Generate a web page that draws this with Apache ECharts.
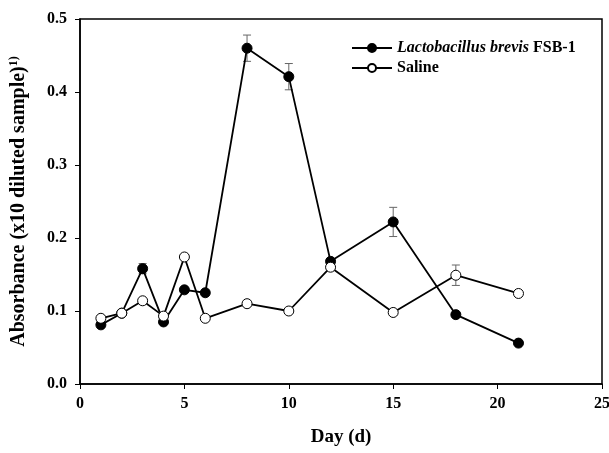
<!DOCTYPE html>
<html>
<head>
<meta charset="utf-8">
<script src="https://cdn.jsdelivr.net/npm/echarts@6/dist/echarts.min.js"></script>
<style>
html, body { margin: 0; padding: 0; background: #fff; }
#main { width: 609px; height: 453px; }
</style>
</head>
<body>
<div id="main"></div>
<script>
var days = [1, 2, 3, 4, 5, 6, 8, 10, 12, 15, 18, 21];
var lactoValues = [0.081, 0.097, 0.158, 0.085, 0.129, 0.125, 0.460, 0.421, 0.168, 0.222, 0.095, 0.056];
var lactoErr = [0, 0, 0.007, 0, 0, 0, 0.018, 0.018, 0, 0.020, 0, 0];
var salineValues = [0.090, 0.097, 0.114, 0.093, 0.174, 0.090, 0.110, 0.100, 0.160, 0.098, 0.149, 0.124];
var salineErr = [0, 0, 0, 0, 0, 0, 0, 0, 0, 0.003, 0.014, 0.002];
var xTicks = [0, 5, 10, 15, 20, 25];
var yTicks = ['0.0', '0.1', '0.2', '0.3', '0.4', '0.5'];

var font = '"Liberation Serif", "Times New Roman", serif';

function pairs(vals) {
    return days.map(function (d, i) { return [d, vals[i]]; });
}
function errData(vals, errs) {
    var out = [];
    days.forEach(function (d, i) {
        if (errs[i] > 0) out.push([d, vals[i] - errs[i], vals[i] + errs[i]]);
    });
    return out;
}
function renderErr(params, api) {
    var lo = api.coord([api.value(0), api.value(1)]);
    var hi = api.coord([api.value(0), api.value(2)]);
    var w = 4;
    var st = { stroke: '#666', lineWidth: 1 };
    return {
        type: 'group',
        children: [
            { type: 'line', shape: { x1: lo[0], y1: lo[1], x2: hi[0], y2: hi[1] }, style: st },
            { type: 'line', shape: { x1: lo[0] - w, y1: lo[1], x2: lo[0] + w, y2: lo[1] }, style: st },
            { type: 'line', shape: { x1: hi[0] - w, y1: hi[1], x2: hi[0] + w, y2: hi[1] }, style: st }
        ]
    };
}

var chart = echarts.init(document.getElementById('main'));
var option = {
    animation: false,
    backgroundColor: '#fff',
    grid: {
        left: 80, right: 7, top: 19, bottom: 69,
        outerBoundsMode: 'none', containLabel: false,
        show: true, borderColor: '#000', borderWidth: 1.5
    },
    legend: {
        left: 346, top: 35, orient: 'vertical',
        itemWidth: 40, itemHeight: 10, itemGap: 4,
        data: ['lacto', 'saline'],
        formatter: function (name) {
            return name === 'lacto' ? '{i|Lactobacillus brevis} FSB-1' : 'Saline';
        },
        textStyle: {
            fontFamily: font, fontWeight: 'bold', fontSize: 16, color: '#000',
            rich: { i: { fontFamily: font, fontWeight: 'bold', fontStyle: 'italic', fontSize: 16, color: '#000' } }
        }
    },
    xAxis: {
        type: 'value', min: 0, max: 25, interval: 5,
        name: 'Day (d)', nameLocation: 'middle', nameGap: 44,
        nameTextStyle: { fontFamily: font, fontWeight: 'bold', fontSize: 19, color: '#000' },
        axisLine: { lineStyle: { color: '#000', width: 1.5 } },
        axisTick: { show: true, length: 5, lineStyle: { color: '#000' } },
        axisLabel: {
            margin: 12, fontFamily: font, fontWeight: 'bold', fontSize: 16, color: '#000',
            formatter: function (v) { return xTicks.indexOf(v) >= 0 ? String(v) : ''; }
        },
        splitLine: { show: false }
    },
    yAxis: {
        type: 'value', min: 0, max: 0.5, interval: 0.1,
        name: '{n|Absorbance (x10 diluted sample)}{s|1)}',
        nameLocation: 'middle', nameGap: 50, nameRotate: 90,
        nameTextStyle: {
            rich: {
                n: { fontFamily: font, fontWeight: 'bold', fontSize: 20, color: '#000' },
                s: { fontFamily: font, fontWeight: 'bold', fontSize: 12, color: '#000', verticalAlign: 'top', padding: [0, 0, 10, 0] }
            }
        },
        axisLine: { show: true, lineStyle: { color: '#000', width: 1.5 } },
        axisTick: { show: true, length: 5, lineStyle: { color: '#000' } },
        axisLabel: {
            margin: 13, fontFamily: font, fontWeight: 'bold', fontSize: 16, color: '#000',
            formatter: function (v) { return yTicks[Math.round(v * 10)]; }
        },
        splitLine: { show: false }
    },
    series: [
        {
            name: 'lacto', type: 'line', data: pairs(lactoValues), z: 3,
            symbol: 'circle', symbolSize: 10,
            lineStyle: { color: '#000', width: 1.8 },
            itemStyle: { color: '#000', borderColor: '#000', borderWidth: 1 }
        },
        {
            name: 'saline', type: 'line', data: pairs(salineValues), z: 4,
            symbol: 'circle', symbolSize: 10,
            lineStyle: { color: '#000', width: 1.8 },
            itemStyle: { color: '#fff', borderColor: '#000', borderWidth: 1 }
        },
        {
            type: 'custom', data: errData(lactoValues, lactoErr), z: 2,
            renderItem: renderErr, encode: { x: 0, y: [1, 2] }, silent: true
        },
        {
            type: 'custom', data: errData(salineValues, salineErr), z: 2,
            renderItem: renderErr, encode: { x: 0, y: [1, 2] }, silent: true
        }
    ]
};
chart.setOption(option);
</script>
</body>
</html>
